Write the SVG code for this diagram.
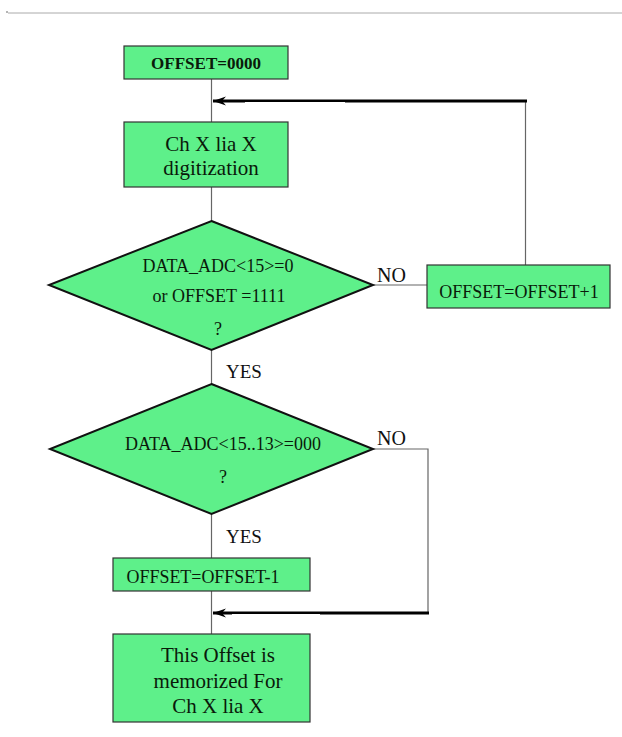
<svg xmlns="http://www.w3.org/2000/svg" width="622" height="737" viewBox="0 0 622 737">
<style>
.node{fill:#5ef08a;stroke:#333;stroke-width:1.2}
.dia{fill:#5ef08a;stroke:#111;stroke-width:2}
.t{font-family:"Liberation Serif",serif;fill:#0a1a0a;text-anchor:middle}
.lbl{font-family:"Liberation Serif",serif;fill:#111}
.ln{stroke:#666;stroke-width:1.2;fill:none}
.ar{stroke:#000;stroke-width:3;fill:none}
</style>
<defs>
<marker id="ah" markerWidth="14" markerHeight="10" refX="13" refY="5" orient="auto" markerUnits="userSpaceOnUse">
<path d="M13,5 L0,0.5 L4,5 L0,9.5 Z" fill="#000"/>
</marker>
</defs>
<rect width="622" height="737" fill="#fff"/>
<line x1="8" y1="13" x2="622" y2="13" stroke="#aaa" stroke-width="1"/>
<circle cx="7" cy="12" r="0.8" fill="#555"/>
<g id="connectors">
<line class="ln" x1="211.5" y1="79" x2="211.5" y2="122"/>
<line class="ln" x1="211.5" y1="187" x2="211.5" y2="221"/>
<line class="ln" x1="211.5" y1="350" x2="211.5" y2="384"/>
<line class="ln" x1="211.5" y1="514" x2="211.5" y2="558"/>
<line class="ln" x1="211.5" y1="591" x2="211.5" y2="634"/>
<line class="ln" x1="373" y1="285" x2="427" y2="285"/>
<line class="ln" x1="525.5" y1="265" x2="525.5" y2="101"/>
<line class="ar" x1="527" y1="101" x2="213" y2="101" marker-end="url(#ah)"/>
<line stroke="#fff" stroke-width="1" x1="245" y1="102.5" x2="345" y2="102.5"/>
<polyline class="ln" points="373,449 428,449 428,613"/>
<line class="ar" x1="429" y1="613" x2="213" y2="613" marker-end="url(#ah)"/>
<line stroke="#fff" stroke-width="1" x1="232" y1="614.5" x2="320" y2="614.5"/>
<text class="lbl" x="377" y="282" font-size="20">NO</text>
<text class="lbl" x="226" y="378" font-size="19">YES</text>
<text class="lbl" x="377" y="445" font-size="20">NO</text>
<text class="lbl" x="226" y="543" font-size="19">YES</text>
</g>
<g id="start">
<rect class="node" x="124" y="46" width="164" height="33"/>
<text class="t" x="206" y="69" font-size="16" font-weight="bold" textLength="110" lengthAdjust="spacingAndGlyphs">OFFSET=0000</text>
</g>
<g id="digitize">
<rect class="node" x="124" y="122" width="164" height="65"/>
<text class="t" x="211" y="151" font-size="21">Ch X lia X</text>
<text class="t" x="211" y="175" font-size="21">digitization</text>
</g>
<g id="decision1">
<polygon class="dia" points="211.5,221 373,285 211.5,350 49,285"/>
<text class="t" x="218" y="272" font-size="18">DATA_ADC&lt;15&gt;=0</text>
<text class="t" x="219" y="302" font-size="18">or OFFSET =1111</text>
<text class="t" x="218" y="335" font-size="18">?</text>
</g>
<g id="increment">
<rect class="node" x="427" y="265" width="183" height="43"/>
<text class="t" x="519" y="298" font-size="18">OFFSET=OFFSET+1</text>
</g>
<g id="decision2">
<polygon class="dia" points="211.5,384 373,449 211.5,514 50,449"/>
<text class="t" x="223" y="450" font-size="18">DATA_ADC&lt;15..13&gt;=000</text>
<text class="t" x="223" y="483" font-size="18">?</text>
</g>
<g id="decrement">
<rect class="node" x="113" y="558" width="197" height="33"/>
<text class="t" x="203" y="583" font-size="18" textLength="153" lengthAdjust="spacingAndGlyphs">OFFSET=OFFSET-1</text>
</g>
<g id="memorize">
<rect class="node" x="113" y="634" width="197" height="88"/>
<text class="t" x="218" y="662" font-size="21">This Offset is</text>
<text class="t" x="218" y="688" font-size="21">memorized For</text>
<text class="t" x="218" y="713" font-size="21">Ch X lia X</text>
</g>
</svg>
